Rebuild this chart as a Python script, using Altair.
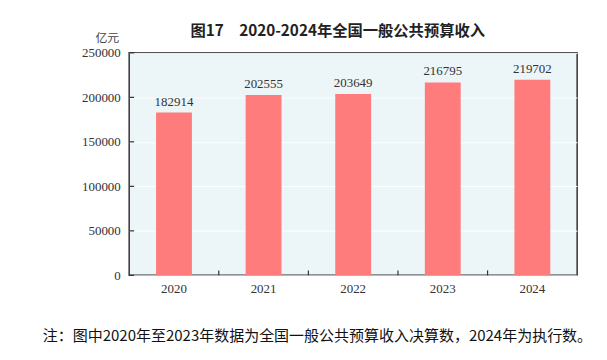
import altair as alt
import pandas as pd

years = ["2020", "2021", "2022", "2023", "2024"]
values = [182914, 202555, 203649, 216795, 219702]
y_ticks = [0, 50000, 100000, 150000, 200000, 250000]
x_boundaries = ["2020", "2021", "2022", "2023"]

title_text = "图17\u30002020-2024年全国一般公共预算收入"
unit_text = "亿元"
note_text = "注：图中2020年至2023年数据为全国一般公共预算收入决算数，2024年为执行数。"

df = pd.DataFrame({"year": years, "value": values})
df_yt = pd.DataFrame({"value": y_ticks})
df_xt = pd.DataFrame({"year": x_boundaries})
df_txt = pd.DataFrame({"t": [title_text]})

serif = "Liberation Serif"
cjk = "Noto Sans CJK SC"

x_scale = alt.Scale(domain=years, paddingInner=0, paddingOuter=0)
y_scale = alt.Scale(domain=[0, 250000], nice=False)

x_axis = alt.Axis(title=None, labelAngle=0, domain=False, ticks=False,
                  labelFont=serif, labelFontSize=13, labelColor="#333",
                  labelPadding=7)
y_axis = alt.Axis(title=None, values=y_ticks, format="d", domain=False, ticks=False,
                  grid=True, gridColor="white", gridWidth=1,
                  labelFont=serif, labelFontSize=13, labelColor="#333",
                  labelPadding=9)

X = alt.X("year:N", scale=x_scale, sort=years, axis=x_axis)
Y = alt.Y("value:Q", scale=y_scale, axis=y_axis)

bars = alt.Chart(df).mark_bar(color="#FF7C7C", width=alt.RelativeBandSize(0.4)).encode(
    x=X, y=Y)

labels = alt.Chart(df).mark_text(font=serif, fontSize=13, color="#333", dy=-11).encode(
    x=X, y=Y, text=alt.Text("value:Q", format="d"))

yticks = alt.Chart(df_yt).mark_rule(color="#333", strokeWidth=1.2).encode(
    y=Y, x=alt.value(0), x2=alt.value(5))

xticks = alt.Chart(df_xt).mark_rule(color="#333", strokeWidth=1.2).encode(
    x=alt.X("year:N", scale=x_scale, sort=years, bandPosition=1, axis=x_axis),
    y=alt.value(224), y2=alt.value(219))

title = alt.Chart(df_txt).mark_text(font=cjk, fontSize=15.4, fontWeight="bold",
                                    color="#222", align="center", baseline="middle").encode(
    x=alt.value(210), y=alt.value(-22), text=alt.value(title_text))

unit = alt.Chart(df_txt).mark_text(font=cjk, fontSize=12, color="#444",
                                   align="right", baseline="middle").encode(
    x=alt.value(-10), y=alt.value(-15), text=alt.value(unit_text))

note = alt.Chart(df_txt).mark_text(font=cjk, fontSize=15.1, color="#111",
                                   align="left", baseline="middle").encode(
    x=alt.value(-87), y=alt.value(285), text=alt.value(note_text))

chart = alt.layer(bars, labels, yticks, xticks, title, unit, note).properties(
    width=451, height=224,
    padding={"left": 122, "top": 44, "right": 22, "bottom": 76},
    autosize=alt.AutoSizeParams(type="none"),
).configure_view(
    fill="#ECF5F8", stroke="#333", strokeWidth=1.5
)

chart.save("out.html", embed_options={"renderer": "svg", "actions": False})
